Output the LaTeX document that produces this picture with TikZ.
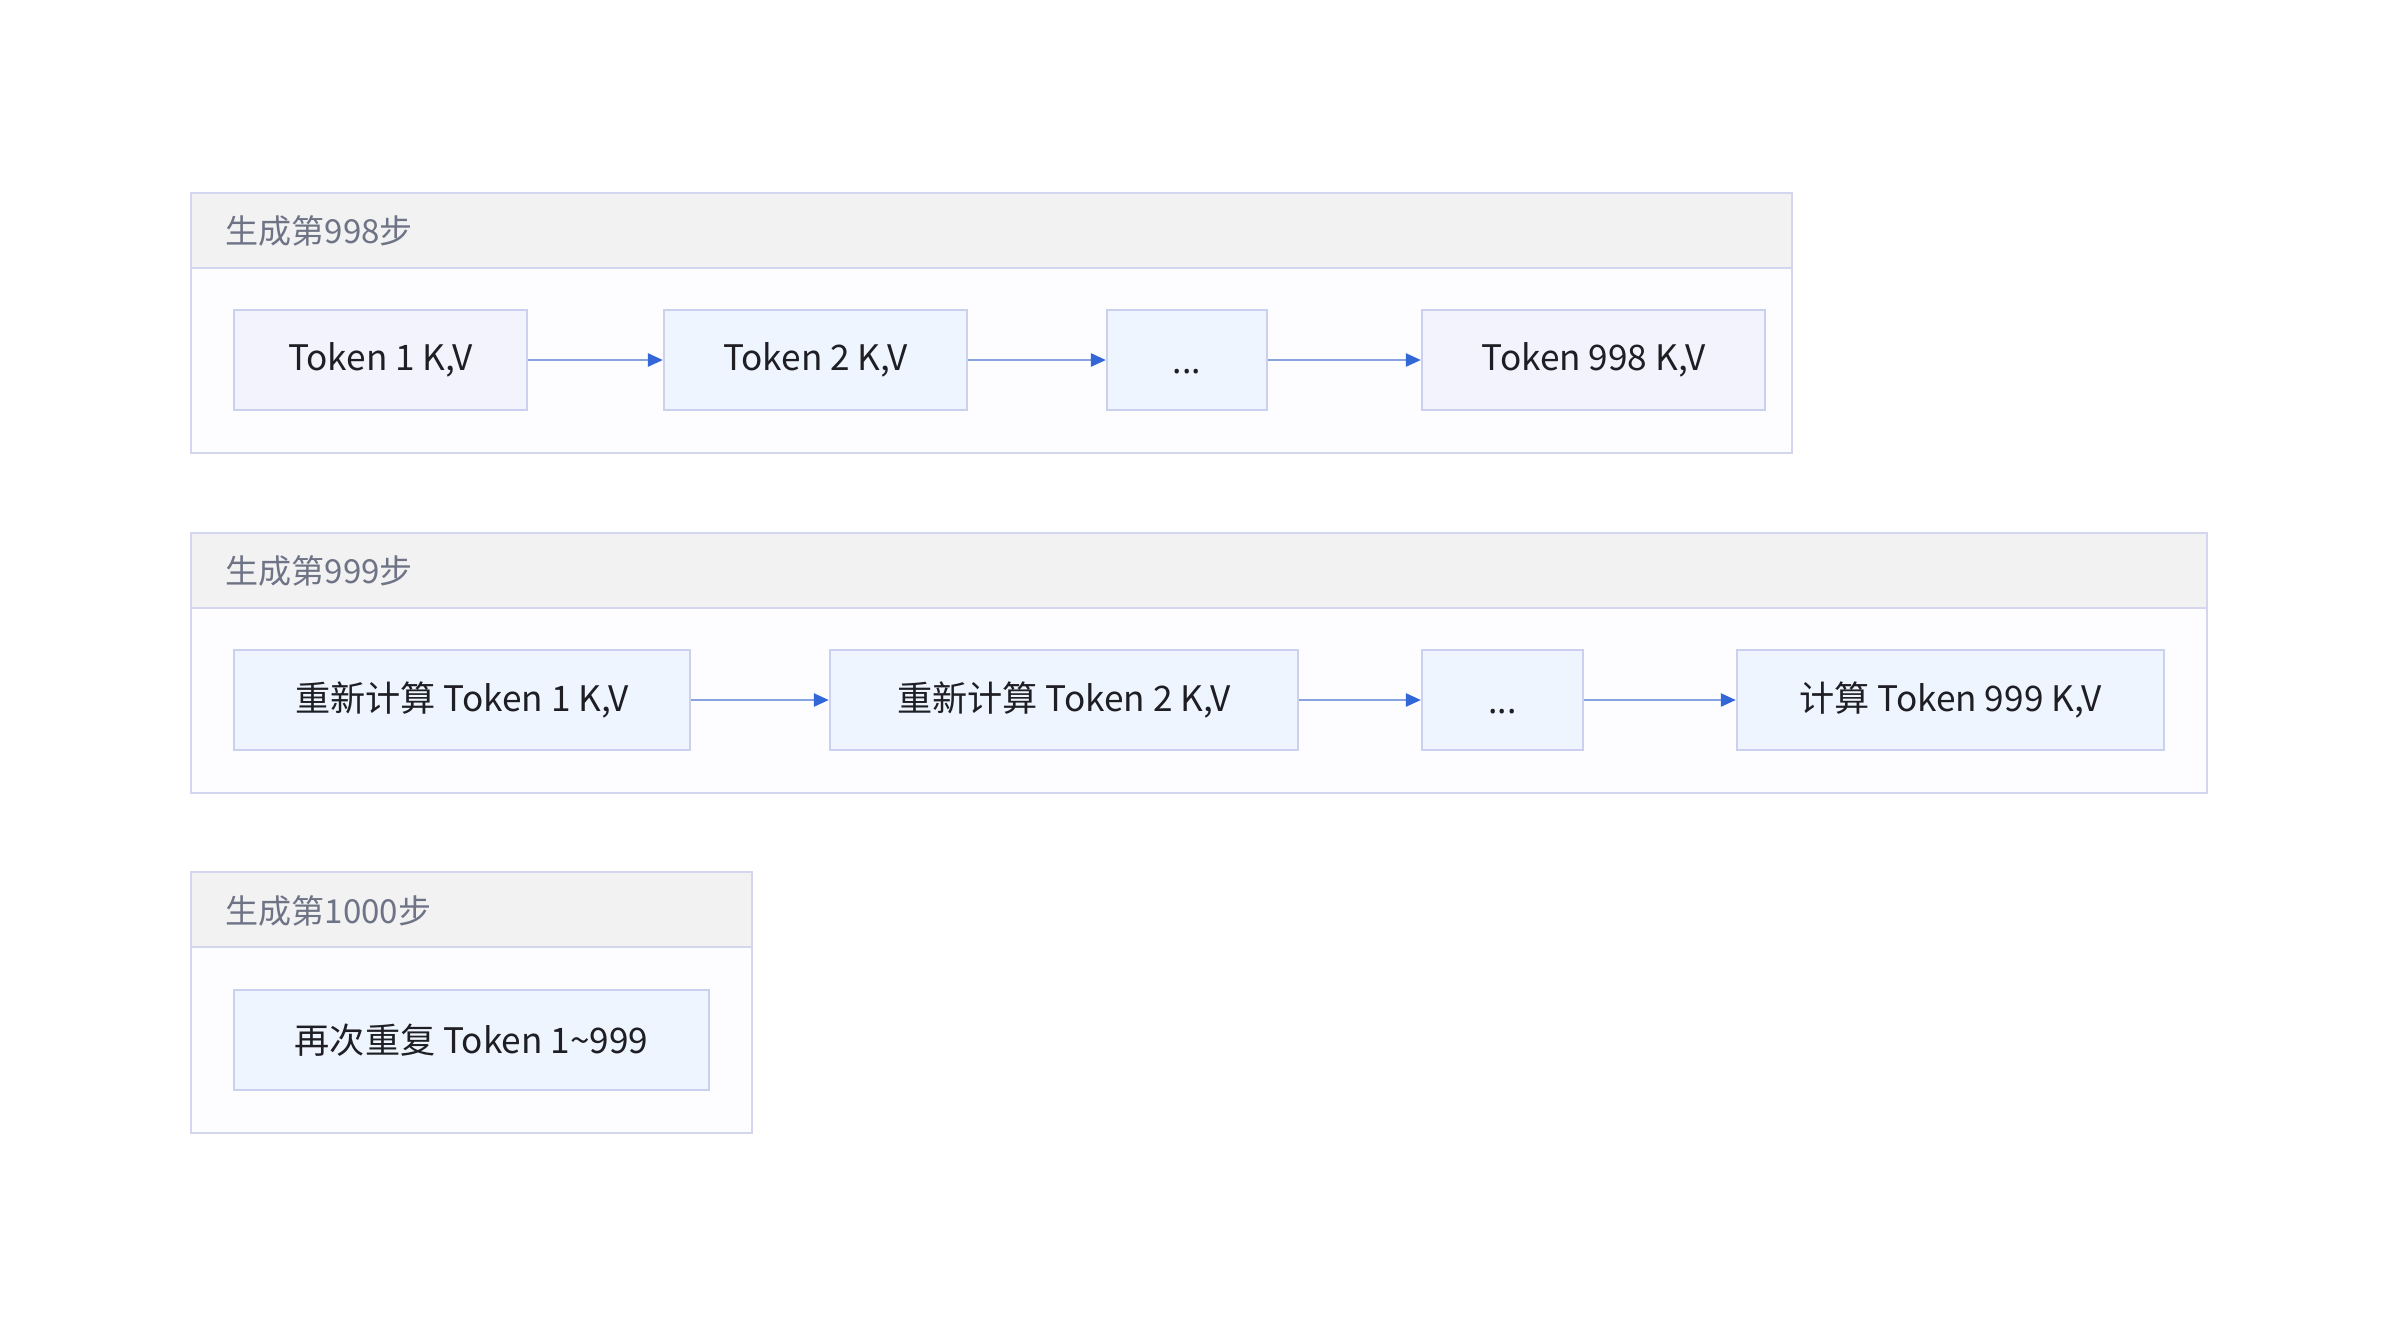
\documentclass[tikz,border=0pt]{standalone}
\usepackage{fontspec}
\setmainfont{Noto Sans CJK SC}
\newfontfamily\dotsfont{Noto Sans}
\usepackage{tikz}
\usetikzlibrary{arrows.meta}
\definecolor{grpline}{HTML}{D3D6EE}
\definecolor{grpfill}{HTML}{FDFDFF}
\definecolor{hdrfill}{HTML}{F2F2F2}
\definecolor{boxline}{HTML}{CBD0EE}
\definecolor{kvA}{HTML}{F2F3FD}
\definecolor{kvB}{HTML}{EEF5FE}
\definecolor{arrline}{HTML}{87A3E0}
\definecolor{arrhead}{HTML}{3366D6}
\definecolor{hdrtxt}{HTML}{6E7385}
\definecolor{txt}{HTML}{1E1E24}

\begin{document}
\begin{tikzpicture}[x=0.01cm,y=-0.01cm,
  grp/.style={draw=grpline,line width=0.8pt,fill=grpfill},
  hdr/.style={draw=grpline,line width=0.8pt,fill=hdrfill},
  kv/.style={draw=boxline,line width=0.6pt,fill=kvB,minimum height=1cm,inner sep=0pt,
    text=txt,font=\fontsize{10}{12}\selectfont},
  flow/.style={draw=arrline,line width=0.7pt,-{Triangle[length=0.15cm,width=0.13cm,color=arrhead]}},
  title/.style={anchor=west,inner sep=0pt,text=hdrtxt,font=\fontsize{9.4}{11}\selectfont}]
\useasboundingbox[fill=white] (0,0) rectangle (2400,1326);

% step 998
\draw[grp] (191,193) rectangle (1792,453);
\draw[hdr] (191,193) rectangle (1792,268);
\node[title] (t998) at (225,231) {生成第998步};
\node[kv,fill=kvA,minimum width=2.93cm] (a1) at (380.5,360) {Token 1 K,V};
\node[kv,minimum width=3.03cm] (a2) at (815.5,360) {Token 2 K,V};
\node[kv,minimum width=1.60cm] (a3) at (1187,360) {\vphantom{Tok}\dotsfont .{}.{}.};
\node[kv,fill=kvA,minimum width=3.43cm] (a4) at (1593.5,360) {Token 998 K,V};
\draw[flow] (a1) -- (a2);
\draw[flow] (a2) -- (a3);
\draw[flow] (a3) -- (a4);

% step 999
\draw[grp] (191,533) rectangle (2207,793);
\draw[hdr] (191,533) rectangle (2207,608);
\node[title] (t999) at (225,571) {生成第999步};
\node[kv,minimum width=4.56cm] (b1) at (462,700) {重新计算 Token 1 K,V};
\node[kv,minimum width=4.68cm] (b2) at (1064,700) {重新计算 Token 2 K,V};
\node[kv,minimum width=1.61cm] (b3) at (1502.5,700) {\vphantom{Tok}\dotsfont .{}.{}.};
\node[kv,minimum width=4.27cm] (b4) at (1950.5,700) {计算 Token 999 K,V};
\draw[flow] (b1) -- (b2);
\draw[flow] (b2) -- (b3);
\draw[flow] (b3) -- (b4);

% step 1000
\draw[grp] (191,872) rectangle (752,1133);
\draw[hdr] (191,872) rectangle (752,947);
\node[title] (t1000) at (225,911) {生成第1000步};
\node[kv,minimum width=4.75cm] (c1) at (471.5,1040) {再次重复 Token 1\textasciitilde 999};
\end{tikzpicture}
\end{document}
